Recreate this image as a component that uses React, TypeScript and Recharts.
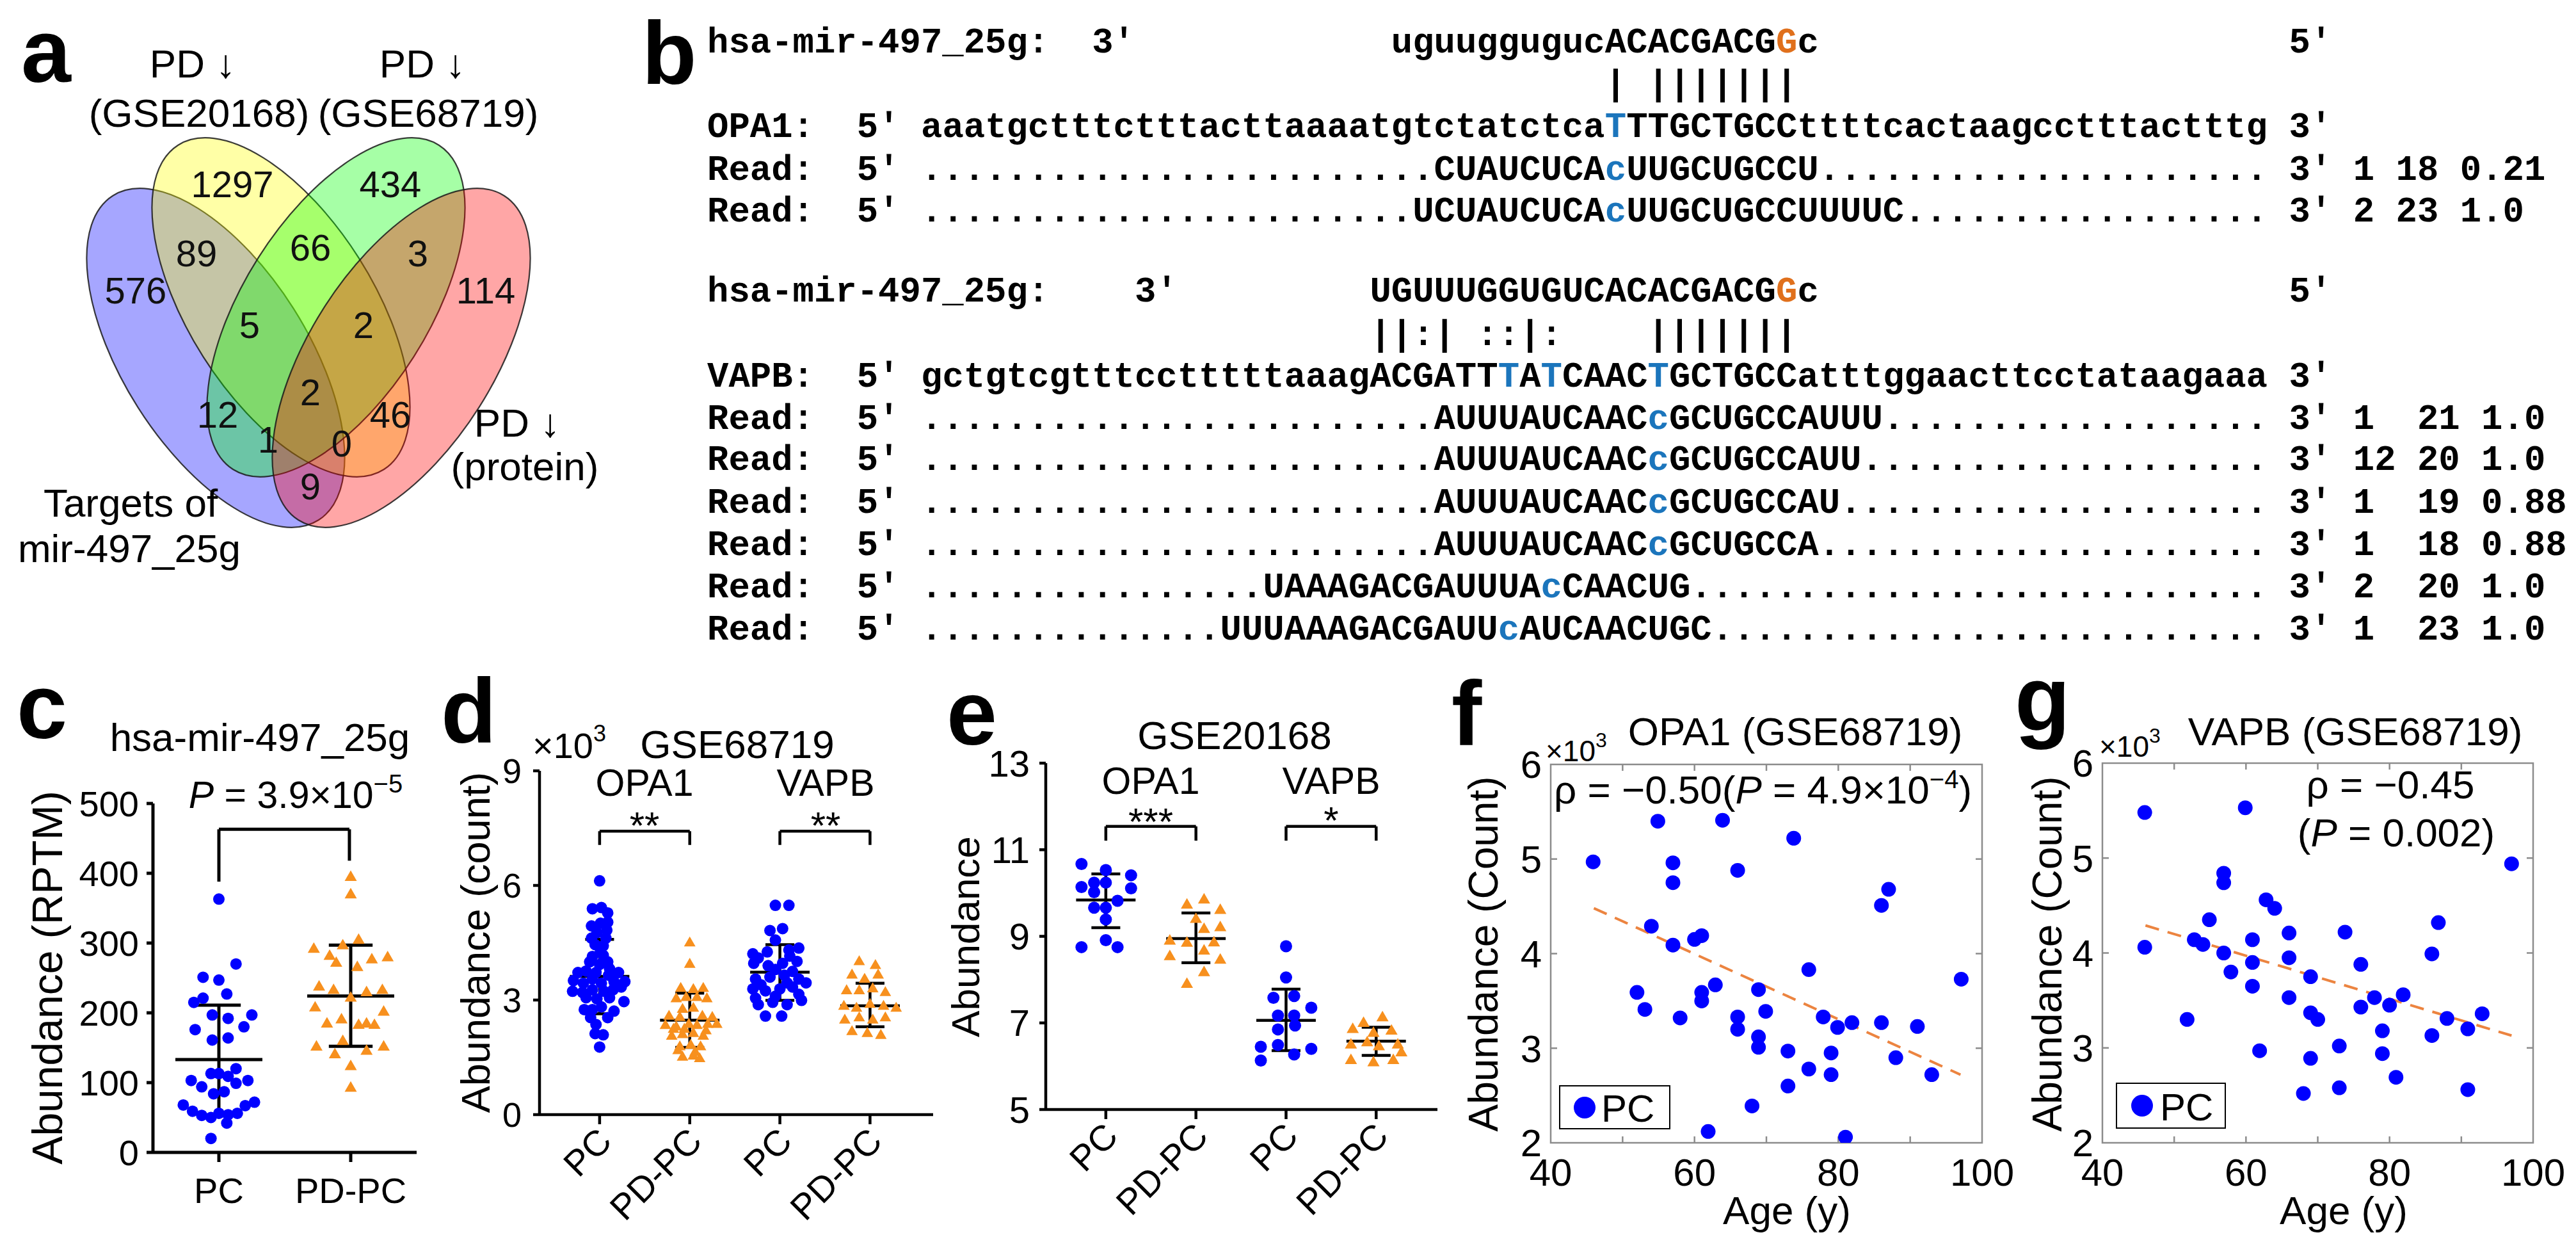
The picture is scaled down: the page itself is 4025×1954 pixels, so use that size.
import React from "react";
import { ScatterChart, Scatter, XAxis, YAxis, ReferenceLine, ReferenceArea } from "recharts";

const SANS = "'Liberation Sans', Arial, Helvetica, sans-serif";
const MONO = "'Liberation Mono', 'Courier New', monospace";
const PT_BLUE = "#0000FF";
const PT_ORANGE = "#F7901E";
const SEQ_BLUE = "#1B75BC";
const SEQ_ORANGE = "#E0701C";
const FIT = "#EC8440";

// ---------- a: Venn ----------
const vennNames = ["Targets of mir-497_25g", "PD ↓ (GSE20168)", "PD ↓ (GSE68719)", "PD ↓ (protein)"];
const vennColors = ["#0000FF", "#FFFF00", "#00FF00", "#FF0000"];
const vennCounts = [1297, 434, 89, 66, 3, 576, 114, 5, 2, 2, 12, 46, 1, 0, 9];
// layout only (page px): centre x, centre y, rotation
const vennEllipses = [[337, 559, 57.6], [439, 480, 57.6], [525, 480, -57.6], [627, 559, -57.6]];
const vennSpots = [[363, 287], [610, 287], [307, 395], [485, 386], [653, 395], [212, 453], [759, 453], [390, 507], [568, 507], [485, 612], [340, 647], [610, 647], [419, 686], [534, 692], [485, 759]];

// ---------- b: alignments ----------
const mirOPA1 = "uguuggugucACACGACG";
const targetOPA1 = ["aaatgctttctttacttaaaatgtctatctca", "T", "TTGCTGCCttttcactaagcctttactttg"];
const readsOPA1 = [
  { start: 34, pre: "CUAUCUCA", mis: "c", post: "UUGCUGCCU", tail: "3' 1 18 0.21" },
  { start: 33, pre: "UCUAUCUCA", mis: "c", post: "UUGCUGCCUUUUC", tail: "3' 2 23 1.0" },
];
const mirVAPB = "UGUUUGGUGUCACACGACG";
const readsVAPB = [
  { start: 34, pre: "AUUUAUCAAC", mis: "c", post: "GCUGCCAUUU", tail: "3' 1  21 1.0" },
  { start: 34, pre: "AUUUAUCAAC", mis: "c", post: "GCUGCCAUU", tail: "3' 12 20 1.0" },
  { start: 34, pre: "AUUUAUCAAC", mis: "c", post: "GCUGCCAU", tail: "3' 1  19 0.88" },
  { start: 34, pre: "AUUUAUCAAC", mis: "c", post: "GCUGCCA", tail: "3' 1  18 0.88" },
  { start: 26, pre: "UAAAGACGAUUUA", mis: "c", post: "CAACUG", tail: "3' 2  20 1.0" },
  { start: 24, pre: "UUUAAAGACGAUU", mis: "c", post: "AUCAACUGC", tail: "3' 1  23 1.0" },
];

// ---------- c ----------
const cGroups = ["PC", "PD-PC"];
const cPC = [363, 270, 251, 247, 227, 215, 221, 197, 192, 197, 176, 180, 161, 164, 120, 113, 113, 109, 103, 103, 94, 99, 84, 87, 68, 72, 67, 59, 53, 50, 56, 54, 56, 42, 20];
const cPCjit = [0, 0.13, -0.12, 0, 0.06, -0.19, -0.12, -0.05, 0.07, 0.25, -0.18, 0.19, -0.05, 0.07, 0.13, -0.06, 0, 0.07, -0.21, 0.22, -0.13, 0.13, -0.04, 0.04, -0.27, 0.27, 0.2, -0.2, -0.13, -0.06, 0, 0.07, 0.14, 0.06, -0.06];
const cPD = [394, 369, 291, 281, 296, 304, 279, 276, 271, 265, 237, 232, 221, 229, 232, 207, 190, 182, 184, 184, 182, 201, 151, 140, 159, 145, 151, 123, 92];
const cPDjit = [0, 0, -0.28, -0.16, -0.06, 0.06, 0.28, 0.16, -0.11, 0.05, -0.24, -0.13, 0, 0.12, 0.24, -0.27, -0.07, 0.06, -0.18, 0.12, 0.18, 0.25, -0.26, -0.12, -0.06, 0.12, 0.25, 0, 0];
const cMean = [133, 224];
const cLo = [53, 152];
const cHi = [211, 297];

// ---------- d ----------
const dGroups = ["PC", "PD-PC", "PC", "PD-PC"];
const dOpaPC = [6.12, 5.39, 5.42, 5.28, 4.94, 5.01, 5.04, 4.83, 4.45, 4.42, 4.14, 4.17, 4.0, 3.76, 3.72, 3.82, 3.51, 3.44, 3.55, 3.44, 3.48, 3.48, 3.23, 3.2, 3.27, 3.23, 3.27, 3.34, 3.06, 3.03, 3.06, 2.96, 2.75, 2.75, 2.82, 2.71, 2.54, 2.54, 2.36, 2.12, 2.09, 1.77, 4.76, 4.62, 4.62, 4.28, 4.0, 3.93, 3.65, 3.72, 3.72];
const dOpaPCjit = [0, -0.08, 0.02, 0.09, -0.09, 0.01, 0.09, 0.08, -0.05, 0.04, -0.08, 0.04, 0.09, -0.15, -0.04, 0.11, -0.29, -0.18, -0.08, 0.02, 0.16, 0.28, -0.3, -0.19, -0.08, 0.05, 0.15, 0.24, -0.15, -0.03, 0.11, 0.27, -0.17, -0.08, 0.02, 0.16, -0.1, 0.09, -0.04, -0.05, 0.04, 0, -0.03, -0.09, 0.07, 0.01, -0.11, 0, 0.1, -0.24, 0.21];
const dOpaPD = [4.49, 3.93, 3.3, 3.27, 3.3, 3.03, 3.06, 3.06, 3.03, 2.75, 2.78, 2.57, 2.54, 2.57, 2.54, 2.33, 2.29, 2.36, 2.33, 2.36, 2.36, 2.05, 2.09, 2.12, 2.05, 1.77, 1.81, 1.77, 1.5, 1.53, 1.46, 2.23, 2.23, 2.19, 1.67, 1.63];
const dOpaPDjit = [0, 0, -0.1, 0.04, 0.15, -0.15, -0.04, 0.08, 0.19, -0.08, 0.04, -0.23, -0.11, 0.14, 0.25, -0.27, -0.15, -0.01, 0.08, 0.2, 0.3, -0.2, -0.08, 0.04, 0.15, -0.11, 0.01, 0.12, -0.08, 0.04, 0.11, -0.18, -0.06, 0.18, -0.13, 0.06];
const dVapPC = [5.48, 5.48, 4.82, 4.87, 4.57, 4.21, 4.26, 4.31, 4.36, 3.96, 3.9, 3.96, 4.01, 3.55, 3.6, 3.65, 3.55, 3.45, 3.29, 3.24, 3.29, 3.34, 2.88, 2.94, 2.88, 2.99, 2.58, 2.58, 4.1, 4.15, 3.8, 3.75, 3.4, 3.45, 3.1, 3.15, 3.05];
const dVapPCjit = [-0.05, 0.1, -0.11, 0.03, -0.05, -0.3, -0.14, 0.1, 0.21, -0.29, -0.13, 0.03, 0.19, -0.27, -0.11, 0.05, 0.21, 0.29, -0.3, -0.16, 0, 0.14, -0.24, -0.08, 0.08, 0.24, -0.16, 0.02, -0.24, 0.11, -0.05, 0.14, -0.21, 0.08, -0.05, 0.21, -0.27];
const dVapPD = [4.0, 3.9, 3.65, 3.54, 3.65, 3.24, 3.24, 3.29, 3.19, 2.83, 2.78, 2.88, 2.83, 2.78, 2.47, 2.53, 2.47, 2.53, 2.17, 2.12, 2.07];
const dVapPDjit = [-0.12, 0.06, -0.2, -0.06, 0.09, -0.26, -0.12, 0.03, 0.17, -0.29, -0.15, 0, 0.15, 0.29, -0.28, -0.12, 0.03, 0.17, -0.2, -0.03, 0.12];
const dMean = [3.62, 2.47, 3.73, 2.85];
const dLo = [2.64, 1.76, 2.99, 2.3];
const dHi = [4.59, 3.18, 4.45, 3.44];

// ---------- e ----------
const eOpaPC = [10.67, 10.53, 10.41, 10.14, 10.24, 10.24, 10.11, 10.02, 9.82, 9.66, 9.66, 9.39, 8.75, 8.91, 8.75];
const eOpaPCjit = [-0.27, 0, 0.28, -0.27, -0.13, 0, 0.28, -0.13, 0.13, -0.13, 0, 0, -0.27, 0, 0.13];
const eOpaPD = [9.72, 9.84, 9.39, 9.16, 8.89, 8.84, 8.66, 8.53, 8.16, 7.89, 9.6, 9.2, 8.85, 8.45];
const eOpaPDjit = [-0.1, 0.09, 0, 0.09, -0.29, -0.1, 0.09, -0.29, 0.09, -0.1, 0.27, 0.27, 0.2, 0.27];
const eVapPC = [8.77, 8.05, 7.58, 7.62, 7.35, 7.17, 7.17, 6.85, 6.94, 6.45, 6.49, 6.4, 6.13, 6.27];
const eVapPCjit = [0, 0, -0.14, 0.09, 0.28, -0.09, 0.09, -0.09, 0.1, -0.28, -0.09, 0.28, -0.28, 0.09];
const eVapPD = [7.12, 6.99, 6.85, 6.76, 6.81, 6.49, 6.54, 6.45, 6.49, 6.13, 6.08, 6.13, 6.31];
const eVapPDjit = [0.07, -0.14, -0.26, -0.03, 0.17, -0.28, -0.1, 0.03, 0.24, -0.28, -0.03, 0.19, 0.28];
const eMean = [9.84, 8.95, 7.06, 6.58];
const eLo = [9.2, 8.39, 6.36, 6.25];
const eHi = [10.44, 9.54, 7.78, 6.9];

// ---------- f / g ----------
const fAge = [45.9, 54.9, 57.0, 57.0, 54.0, 57.0, 60.0, 52.0, 53.1, 58.0, 63.9, 73.8, 66.0, 86.0, 87.0, 61.0, 62.9, 61.0, 61.0, 75.9, 68.9, 69.9, 66.0, 66.0, 68.9, 68.9, 73.0, 77.9, 79.9, 81.9, 86.0, 91.0, 79.0, 88.0, 75.9, 79.0, 93.0, 73.0, 68.0, 61.9, 81.0, 97.1];
const fOPA1 = [4.97, 5.4, 4.96, 4.75, 4.29, 4.09, 4.15, 3.59, 3.41, 3.32, 5.41, 5.22, 4.88, 4.51, 4.68, 4.19, 3.67, 3.59, 3.5, 3.83, 3.62, 3.39, 3.33, 3.2, 3.12, 3.01, 2.97, 3.33, 3.22, 3.27, 3.27, 3.23, 2.95, 2.9, 2.78, 2.72, 2.72, 2.6, 2.39, 2.12, 2.06, 3.73];
const fFit = [[46, 4.48], [97, 2.72]];
const gAge = [45.9, 45.9, 59.9, 56.9, 56.9, 54.9, 52.8, 54.0, 56.9, 57.9, 60.9, 60.9, 60.9, 62.8, 64.0, 66.0, 66.0, 66.0, 69.0, 69.0, 70.0, 61.9, 69.0, 73.0, 68.0, 73.0, 51.8, 73.8, 76.0, 76.0, 77.9, 80.0, 79.0, 79.0, 81.9, 80.9, 85.9, 86.8, 85.9, 88.0, 90.9, 90.9, 92.9, 97.0];
const gVAPB = [5.48, 4.06, 5.53, 4.84, 4.74, 4.35, 4.14, 4.09, 4.0, 3.8, 4.14, 3.9, 3.65, 4.56, 4.47, 4.21, 3.95, 3.53, 3.75, 3.37, 3.3, 2.97, 2.89, 3.02, 2.52, 2.58, 3.3, 4.22, 3.88, 3.43, 3.53, 3.45, 3.18, 2.94, 3.56, 2.69, 3.99, 4.32, 3.13, 3.31, 3.2, 2.56, 3.36, 4.94];
const gFit = [[46, 4.29], [97, 3.13]];
const ageTicks = [40, 60, 80, 100];
const countTicks = [2, 3, 4, 5, 6];

// ---------- helpers ----------
const triPath = (cx: number, cy: number, s: number) =>
  `M${cx},${cy - s * 0.577}L${cx + s / 2},${cy + s * 0.289}L${cx - s / 2},${cy + s * 0.289}Z`;

function T({ x, y, s, a = "start", w, rot, fam = SANS, fill = "#000", children }: any) {
  return (
    <text x={x} y={y} fontSize={s} textAnchor={a} fontWeight={w} fontFamily={fam} fill={fill}
      transform={rot ? `rotate(${rot} ${x} ${y})` : undefined} style={{ whiteSpace: "pre" }}>
      {children}
    </text>
  );
}

function VennChart() {
  const ell = vennNames.map((n, i) => ({ x: vennEllipses[i][0], y: vennEllipses[i][1], rot: vennEllipses[i][2], fill: vennColors[i], n }));
  const lab = vennCounts.map((v, i) => ({ x: vennSpots[i][0], y: vennSpots[i][1], v }));
  return (
    <div style={{ position: "absolute", left: 0, top: 0 }}>
      <ScatterChart width={1000} height={1000} margin={{ top: 0, right: 0, bottom: 0, left: 0 }}>
        <XAxis type="number" dataKey="x" domain={[0, 1000]} hide />
        <YAxis type="number" dataKey="y" domain={[0, 1000]} reversed hide />
        <Scatter data={ell} isAnimationActive={false}
          shape={(p: any) => (
            <ellipse cx={p.cx} cy={p.cy} rx={300} ry={144} transform={`rotate(${p.payload.rot} ${p.cx} ${p.cy})`}
              fill={p.payload.fill} fillOpacity={0.35} stroke="#1a1a1a" strokeOpacity={0.85} strokeWidth={2.2} />
          )} />
        <Scatter data={lab} isAnimationActive={false}
          shape={(p: any) => (
            <text x={p.cx} y={p.cy} dy="0.36em" textAnchor="middle" fontSize={58} fontFamily={SANS} fill="#111">{p.payload.v}</text>
          )} />
      </ScatterChart>
    </div>
  );
}

type Grp = { pos: number; vals: number[]; jit: number[]; mean: number; lo: number; hi: number; tri?: boolean };
type Brk = { a: number; b: number; top: number; la: number; lb: number };

function DotPlot(props: {
  plot: { x: number; y: number; w: number; h: number };
  xDomain: [number, number]; xTicks: number[]; xNames: string[];
  yDomain: [number, number]; yTicks: number[];
  groups: Grp[]; brackets: Brk[];
  rotate?: boolean; yFont: number; yMargin: number; xFont: number;
  r: number; s: number; lw: number; capHalf: number;
}) {
  const ML = 140, MR = 20, MT = 40, MB = 190;
  const { plot } = props;
  const XTick = (p: any) => {
    const name = props.xNames[props.xTicks.indexOf(p.payload.value)] ?? "";
    if (props.rotate) {
      const x = p.x + 22, y = p.y + 30;
      return <text x={x} y={y} transform={`rotate(-45 ${x} ${y})`} textAnchor="end" fontSize={props.xFont} fontFamily={SANS} fill="#000">{name}</text>;
    }
    return <text x={p.x} y={p.y + 24} dy="0.72em" textAnchor="middle" fontSize={props.xFont} fontFamily={SANS} fill="#000">{name}</text>;
  };
  const line = { stroke: "#000", strokeWidth: props.lw };
  return (
    <div style={{ position: "absolute", left: plot.x - ML, top: plot.y - MT }}>
      <ScatterChart width={ML + plot.w + MR} height={MT + plot.h + MB} margin={{ top: MT, right: MR, bottom: 0, left: 0 }}>
        <XAxis type="number" dataKey="x" domain={props.xDomain} ticks={props.xTicks} allowDataOverflow interval={0}
          height={MB} tickSize={15} tickMargin={0} axisLine={line} tickLine={line} tick={XTick} />
        <YAxis type="number" dataKey="y" domain={props.yDomain} ticks={props.yTicks} allowDataOverflow interval={0}
          width={ML} tickSize={10} tickMargin={props.yMargin} axisLine={line} tickLine={line}
          tick={{ fontSize: props.yFont, fontFamily: SANS, fill: "#000" }} />
        {props.groups.map((g, i) => (
          <Scatter key={"s" + i} data={g.vals.map((v, k) => ({ x: g.pos + g.jit[k], y: v }))} isAnimationActive={false}
            shape={(p: any) => g.tri
              ? <path d={triPath(p.cx, p.cy, props.s)} fill={PT_ORANGE} />
              : <circle cx={p.cx} cy={p.cy} r={props.r} fill={PT_BLUE} />} />
        ))}
        {props.groups.map((g, i) => [
          <ReferenceLine key={"m" + i} segment={[{ x: g.pos - 0.33, y: g.mean }, { x: g.pos + 0.33, y: g.mean }]} {...line} ifOverflow="visible" />,
          <ReferenceLine key={"v" + i} segment={[{ x: g.pos, y: g.lo }, { x: g.pos, y: g.hi }]} {...line} ifOverflow="visible" />,
          <ReferenceLine key={"h" + i} segment={[{ x: g.pos - props.capHalf, y: g.hi }, { x: g.pos + props.capHalf, y: g.hi }]} {...line} ifOverflow="visible" />,
          <ReferenceLine key={"l" + i} segment={[{ x: g.pos - props.capHalf, y: g.lo }, { x: g.pos + props.capHalf, y: g.lo }]} {...line} ifOverflow="visible" />,
        ])}
        {props.brackets.map((b, i) => [
          <ReferenceLine key={"bt" + i} segment={[{ x: b.a, y: b.top }, { x: b.b, y: b.top }]} {...line} ifOverflow="visible" />,
          <ReferenceLine key={"ba" + i} segment={[{ x: b.a, y: b.la }, { x: b.a, y: b.top }]} {...line} ifOverflow="visible" />,
          <ReferenceLine key={"bb" + i} segment={[{ x: b.b, y: b.lb }, { x: b.b, y: b.top }]} {...line} ifOverflow="visible" />,
        ])}
      </ScatterChart>
    </div>
  );
}

function AgePlot({ plot, ages, vals, fit }: { plot: { x: number; y: number; w: number; h: number }; ages: number[]; vals: number[]; fit: number[][] }) {
  const ML = 150, MR = 70, MT = 40, MB = 100;
  const box = { stroke: "#8c8c8c", strokeWidth: 2.5 };
  const tx = 10 / (plot.w / 60);
  const ty = 10 / (plot.h / 4);
  const tickStyle = { fontSize: 60, fontFamily: SANS, fill: "#000" };
  return (
    <div style={{ position: "absolute", left: plot.x - ML, top: plot.y - MT }}>
      <ScatterChart width={ML + plot.w + MR} height={MT + plot.h + MB} margin={{ top: MT, right: MR, bottom: 0, left: 0 }}>
        <XAxis type="number" dataKey="x" domain={[40, 100]} ticks={ageTicks} allowDataOverflow interval={0}
          height={MB} axisLine={false} tickLine={false} tickSize={0} tickMargin={24} tick={tickStyle} />
        <YAxis type="number" dataKey="y" domain={[2, 6]} ticks={countTicks} allowDataOverflow interval={0}
          width={ML} axisLine={false} tickLine={false} tickSize={0} tickMargin={14} tick={tickStyle} />
        <ReferenceArea x1={40} x2={100} y1={2} y2={6} fill="none" {...box} ifOverflow="visible" />
        {[50, 60, 70, 80, 90].map((t) => [
          <ReferenceLine key={"xb" + t} segment={[{ x: t, y: 2 }, { x: t, y: 2 + ty }]} {...box} ifOverflow="visible" />,
          <ReferenceLine key={"xt" + t} segment={[{ x: t, y: 6 }, { x: t, y: 6 - ty }]} {...box} ifOverflow="visible" />,
        ])}
        {[3, 4, 5].map((t) => [
          <ReferenceLine key={"yl" + t} segment={[{ x: 40, y: t }, { x: 40 + tx, y: t }]} {...box} ifOverflow="visible" />,
          <ReferenceLine key={"yr" + t} segment={[{ x: 100, y: t }, { x: 100 - tx, y: t }]} {...box} ifOverflow="visible" />,
        ])}
        <ReferenceLine segment={[{ x: fit[0][0], y: fit[0][1] }, { x: fit[1][0], y: fit[1][1] }]} stroke={FIT} strokeWidth={4} strokeDasharray="22 14" ifOverflow="visible" />
        <Scatter data={ages.map((a, i) => ({ x: a, y: vals[i] }))} isAnimationActive={false}
          shape={(p: any) => <circle cx={p.cx} cy={p.cy} r={11.5} fill={PT_BLUE} />} />
      </ScatterChart>
    </div>
  );
}

// ---------- panel b text rows ----------
const B_X0 = 1105, B_PITCH = 33.4, B_FS = B_PITCH / 0.60009;
type Seg = [number, string, string?];
function readSegs(r: { start: number; pre: string; mis: string; post: string; tail: string }): Seg[] {
  const end = r.start + r.pre.length + r.mis.length + r.post.length;
  return [
    [0, "Read:"], [7, "5'"], [10, ".".repeat(r.start - 10)], [r.start, r.pre],
    [r.start + r.pre.length, r.mis, SEQ_BLUE], [r.start + r.pre.length + 1, r.post],
    [end, ".".repeat(73 - end)], [74, r.tail],
  ];
}
const rowsB: { y: number; segs: Seg[] }[] = [
  { y: 82, segs: [[0, "hsa-mir-497_25g:"], [18, "3'"], [32, mirOPA1], [50, "G", SEQ_ORANGE], [51, "c"], [74, "5'"]] },
  { y: 148, segs: [[42, "| |||||||"]] },
  { y: 214, segs: [[0, "OPA1:"], [7, "5'"], [10, targetOPA1[0]], [42, targetOPA1[1], SEQ_BLUE], [43, targetOPA1[2]], [74, "3'"]] },
  { y: 281, segs: readSegs(readsOPA1[0]) },
  { y: 346, segs: readSegs(readsOPA1[1]) },
  { y: 471, segs: [[0, "hsa-mir-497_25g:"], [20, "3'"], [31, mirVAPB], [50, "G", SEQ_ORANGE], [51, "c"], [74, "5'"]] },
  { y: 539, segs: [[31, "||:| ::|:    |||||||"]] },
  { y: 604, segs: [[0, "VAPB:"], [7, "5'"], [10, "gctgtcgtttcctttttaaagACGATT"], [37, "T", SEQ_BLUE], [38, "A"], [39, "T", SEQ_BLUE], [40, "CAAC"], [44, "T", SEQ_BLUE], [45, "GCTGCCatttggaacttcctataagaaa"], [74, "3'"]] },
  ...readsVAPB.map((r, i) => ({ y: [670, 734, 801, 867, 933, 999][i], segs: readSegs(r) })),
];

export default function App() {
  const cPlot = { x: 239, y: 1255, w: 412, h: 545 };
  const dPlot = { x: 843, y: 1204, w: 615, h: 537 };
  const ePlot = { x: 1634, y: 1192, w: 612, h: 541 };
  const fPlot = { x: 2423, y: 1194, w: 674, h: 591 };
  const gPlot = { x: 3285, y: 1192, w: 673, h: 593 };
  return (
    <div style={{ position: "absolute", left: 0, top: 0, width: 4025, height: 1954, background: "#fff", overflow: "hidden" }}>
      <VennChart />
      <DotPlot plot={cPlot} xDomain={[0.5, 2.5]} xTicks={[1, 2]} xNames={cGroups} yDomain={[0, 500]} yTicks={[0, 100, 200, 300, 400, 500]}
        groups={[
          { pos: 1, vals: cPC, jit: cPCjit, mean: cMean[0], lo: cLo[0], hi: cHi[0] },
          { pos: 2, vals: cPD, jit: cPDjit, mean: cMean[1], lo: cLo[1], hi: cHi[1], tri: true },
        ]}
        brackets={[{ a: 1, b: 1.99, top: 463, la: 388, lb: 418 }]}
        yFont={56} yMargin={12} xFont={56} r={9} s={19} lw={5} capHalf={0.166} />
      <DotPlot plot={dPlot} xDomain={[1 / 3, 4.7]} xTicks={[1, 2, 3, 4]} xNames={dGroups} yDomain={[0, 9]} yTicks={[0, 3, 6, 9]}
        groups={[
          { pos: 1, vals: dOpaPC, jit: dOpaPCjit, mean: dMean[0], lo: dLo[0], hi: dHi[0] },
          { pos: 2, vals: dOpaPD, jit: dOpaPDjit, mean: dMean[1], lo: dLo[1], hi: dHi[1], tri: true },
          { pos: 3, vals: dVapPC, jit: dVapPCjit, mean: dMean[2], lo: dLo[2], hi: dHi[2] },
          { pos: 4, vals: dVapPD, jit: dVapPDjit, mean: dMean[3], lo: dLo[3], hi: dHi[3], tri: true },
        ]}
        brackets={[{ a: 1, b: 2, top: 7.42, la: 7.06, lb: 7.06 }, { a: 3, b: 4, top: 7.42, la: 7.06, lb: 7.06 }]}
        rotate yFont={54} yMargin={18} xFont={56} r={9} s={18} lw={4.5} capHalf={0.16} />
      <DotPlot plot={ePlot} xDomain={[1 / 3, 4.68]} xTicks={[1, 2, 3, 4]} xNames={dGroups} yDomain={[5, 13]} yTicks={[5, 7, 9, 11, 13]}
        groups={[
          { pos: 1, vals: eOpaPC, jit: eOpaPCjit, mean: eMean[0], lo: eLo[0], hi: eHi[0] },
          { pos: 2, vals: eOpaPD, jit: eOpaPDjit, mean: eMean[1], lo: eLo[1], hi: eHi[1], tri: true },
          { pos: 3, vals: eVapPC, jit: eVapPCjit, mean: eMean[2], lo: eLo[2], hi: eHi[2] },
          { pos: 4, vals: eVapPD, jit: eVapPDjit, mean: eMean[3], lo: eLo[3], hi: eHi[3], tri: true },
        ]}
        brackets={[{ a: 1, b: 2, top: 11.54, la: 11.21, lb: 11.21 }, { a: 3, b: 4, top: 11.54, la: 11.21, lb: 11.21 }]}
        rotate yFont={58} yMargin={15} xFont={56} r={9.5} s={19} lw={4.5} capHalf={0.16} />
      <AgePlot plot={fPlot} ages={fAge} vals={fOPA1} fit={fFit} />
      <AgePlot plot={gPlot} ages={gAge} vals={gVAPB} fit={gFit} />

      <svg width={4025} height={1954} style={{ position: "absolute", left: 0, top: 0, pointerEvents: "none" }}>
        {/* panel letters */}
        <T x={33} y={128} s={140} w="bold">a</T>
        <T x={1003} y={131} s={140} w="bold">b</T>
        <T x={26} y={1153} s={142} w="bold">c</T>
        <T x={689} y={1160} s={142} w="bold">d</T>
        <T x={1479} y={1163} s={142} w="bold">e</T>
        <T x={2268} y={1164} s={142} w="bold">f</T>
        <T x={3148} y={1141} s={142} w="bold">g</T>

        {/* a labels */}
        <T x={301} y={121} s={62} a="middle">PD ↓</T>
        <T x={311} y={198} s={62} a="middle">(GSE20168)</T>
        <T x={660} y={121} s={62} a="middle">PD ↓</T>
        <T x={669} y={198} s={62} a="middle">(GSE68719)</T>
        <T x={808} y={682} s={62} a="middle">PD ↓</T>
        <T x={820} y={750} s={62} a="middle">(protein)</T>
        <T x={204} y={807} s={62} a="middle">Targets of</T>
        <T x={202} y={878} s={62} a="middle">mir-497_25g</T>

        {/* b alignments */}
        {rowsB.map((row, ri) =>
          row.segs.map(([col, txt, color], si) => (
            <text key={ri + "-" + si} x={B_X0 + col * B_PITCH} y={row.y} fontFamily={MONO} fontWeight="bold" fontSize={B_FS}
              fill={color || "#000"} style={{ whiteSpace: "pre" }}>{txt}</text>
          ))
        )}

        {/* c */}
        <T x={406} y={1173} s={62} a="middle">hsa-mir-497_25g</T>
        <T x={462} y={1262} s={59} a="middle"><tspan fontStyle="italic">P</tspan> = 3.9×10<tspan dy={-24} fontSize={40}>−5</tspan></T>
        <T x={97} y={1527} s={66} a="middle" rot={-90}>Abundance (RPTM)</T>

        {/* d */}
        <T x={832} y={1184} s={56}>×10<tspan dy={-26} fontSize={36}>3</tspan></T>
        <T x={1152} y={1184} s={62} a="middle">GSE68719</T>
        <T x={1007} y={1243} s={59} a="middle">OPA1</T>
        <T x={1290} y={1243} s={59} a="middle">VAPB</T>
        <T x={1007} y={1310} s={60} a="middle">**</T>
        <T x={1290} y={1310} s={60} a="middle">**</T>
        <T x={765} y={1472} s={63} a="middle" rot={-90}>Abundance (count)</T>

        {/* e */}
        <T x={1929} y={1170} s={62} a="middle">GSE20168</T>
        <T x={1798} y={1240} s={59} a="middle">OPA1</T>
        <T x={2080} y={1240} s={59} a="middle">VAPB</T>
        <T x={1798} y={1304} s={60} a="middle">***</T>
        <T x={2080} y={1302} s={60} a="middle">*</T>
        <T x={1530} y={1463} s={62} a="middle" rot={-90}>Abundance</T>

        {/* f */}
        <T x={2415} y={1189} s={46}>×10<tspan dy={-22} fontSize={32}>3</tspan></T>
        <T x={2805} y={1164} s={62} a="middle">OPA1 (GSE68719)</T>
        <T x={2428} y={1255} s={62}>ρ = −0.50(<tspan fontStyle="italic">P</tspan> = 4.9×10<tspan dy={-24} fontSize={40}>−4</tspan><tspan dy={24}>)</tspan></T>
        <T x={2340} y={1490} s={64} a="middle" rot={-90}>Abundance (Count)</T>
        <T x={2792} y={1912} s={62} a="middle">Age (y)</T>
        <rect x={2437} y={1696} width={172} height={67} fill="#fff" stroke="#000" strokeWidth={2} />
        <circle cx={2476} cy={1730} r={17} fill={PT_BLUE} />
        <T x={2502} y={1752} s={60}>PC</T>

        {/* g */}
        <T x={3280} y={1182} s={46}>×10<tspan dy={-22} fontSize={32}>3</tspan></T>
        <T x={3680} y={1164} s={62} a="middle">VAPB (GSE68719)</T>
        <T x={3735} y={1247} s={62} a="middle">ρ = −0.45</T>
        <T x={3744} y={1322} s={62} a="middle">(<tspan fontStyle="italic">P</tspan> = 0.002)</T>
        <T x={3221} y={1490} s={64} a="middle" rot={-90}>Abundance (Count)</T>
        <T x={3662} y={1912} s={62} a="middle">Age (y)</T>
        <rect x={3307} y={1692} width={170} height={70} fill="#fff" stroke="#000" strokeWidth={2} />
        <circle cx={3347} cy={1727} r={17} fill={PT_BLUE} />
        <T x={3375} y={1750} s={60}>PC</T>
      </svg>
    </div>
  );
}
